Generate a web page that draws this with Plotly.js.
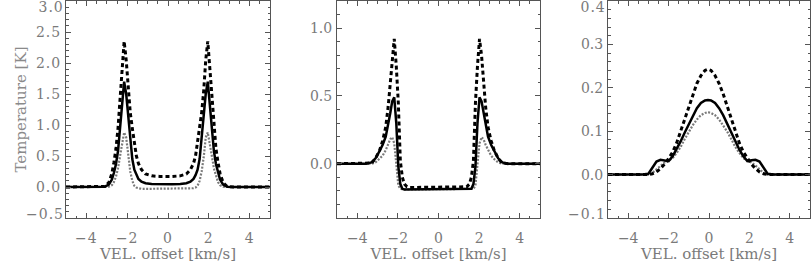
<!DOCTYPE html>
<html>
<head>
<meta charset="utf-8">
<script src="https://cdn.plot.ly/plotly-3.0.1.min.js"></script>
<style>
html,body{margin:0;padding:0;background:#fff;}
#chart{width:812px;height:263px;}
#chart .xtick text, #chart .ytick text, #chart .annotation-text{letter-spacing:1px;}
</style>
</head>
<body>
<div id="chart"></div>
<script>
// ---------- Panel 1 ----------
var P1_X = [-5.0, -3.4, -3.1, -2.9, -2.75, -2.65, -2.55, -2.45, -2.35, -2.25, -2.15, -2.05, -1.95, -1.85, -1.75, -1.65, -1.55, -1.45, -1.3, -1.1, -0.8, -0.4,
            -0.1,
            0.2, 0.6, 0.9, 1.1, 1.25, 1.35, 1.45, 1.55, 1.65, 1.75, 1.85, 1.95, 2.05, 2.15, 2.25, 2.35, 2.45, 2.55, 2.7, 2.9, 3.2, 5.0];
var P1_DASH = [0, 0, 0.01, 0.07, 0.22, 0.4, 0.62, 0.95, 1.37, 1.9, 2.35, 2.05, 1.55, 1.2, 0.95, 0.72, 0.5, 0.38, 0.28, 0.21, 0.18, 0.17,
               0.165,
               0.17, 0.18, 0.21, 0.28, 0.38, 0.5, 0.72, 0.95, 1.2, 1.55, 2.05, 2.35, 1.9, 1.37, 0.95, 0.62, 0.4, 0.22, 0.07, 0.01, 0, 0];
var P1_SOLID = [0, 0, 0.005, 0.04, 0.12, 0.23, 0.37, 0.58, 0.92, 1.35, 1.7, 1.5, 1.12, 0.78, 0.45, 0.28, 0.19, 0.13, 0.085, 0.06, 0.05, 0.045,
                0.045,
                0.045, 0.05, 0.06, 0.085, 0.13, 0.19, 0.28, 0.45, 0.78, 1.12, 1.5, 1.7, 1.35, 0.92, 0.58, 0.37, 0.23, 0.12, 0.04, 0.005, 0, 0];
var P1_DOT = [0, 0, 0, 0.005, 0.03, 0.08, 0.17, 0.3, 0.5, 0.72, 0.88, 0.8, 0.48, 0.25, 0.1, 0.02, -0.01, -0.02, -0.03, -0.03, -0.03, -0.03,
              -0.03,
              -0.03, -0.03, -0.03, -0.03, -0.02, -0.01, 0.02, 0.1, 0.25, 0.48, 0.8, 0.88, 0.72, 0.5, 0.3, 0.17, 0.08, 0.03, 0.005, 0, 0, 0];

// ---------- Panel 2 ----------
var P2_X = [-5.0, -3.6, -3.3, -3.1, -2.9, -2.75, -2.6, -2.48, -2.38, -2.28, -2.18, -2.08, -1.98, -1.88, -1.78, -1.68, -1.55, -1.4, -1.0,
            -0.08,
            0.84, 1.24, 1.39, 1.52, 1.62, 1.72, 1.82, 1.92, 2.02, 2.12, 2.22, 2.32, 2.44, 2.59, 2.74, 2.94, 3.14, 3.44, 5.0];
var P2_DASH = [0, 0, 0.005, 0.04, 0.1, 0.17, 0.27, 0.42, 0.6, 0.8, 0.92, 0.72, 0.45, 0.02, -0.1, -0.15, -0.17, -0.175, -0.175,
               -0.175,
               -0.175, -0.175, -0.17, -0.15, -0.1, 0.02, 0.45, 0.72, 0.92, 0.8, 0.6, 0.42, 0.27, 0.17, 0.1, 0.04, 0.005, 0, 0];
var P2_SOLID = [0, 0, 0.01, 0.04, 0.095, 0.14, 0.2, 0.28, 0.37, 0.46, 0.49, 0.3, -0.02, -0.15, -0.185, -0.19, -0.19, -0.19, -0.19,
                -0.19,
                -0.19, -0.19, -0.19, -0.19, -0.185, -0.15, -0.02, 0.3, 0.49, 0.46, 0.37, 0.28, 0.2, 0.14, 0.095, 0.04, 0.01, 0, 0];
var P2_DOT = [0, 0, 0, 0.01, 0.035, 0.06, 0.1, 0.14, 0.18, 0.196, 0.15, 0.0, -0.16, -0.185, -0.19, -0.19, -0.19, -0.19, -0.19,
              -0.19,
              -0.19, -0.19, -0.19, -0.19, -0.19, -0.185, -0.16, 0.0, 0.15, 0.196, 0.18, 0.14, 0.1, 0.06, 0.035, 0.01, 0, 0, 0];

// ---------- Panel 3 ----------
var P3_X = [-5.0, -3.3, -3.0, -2.8, -2.6, -2.4, -2.2, -2.0, -1.8, -1.6, -1.4, -1.2, -1.0, -0.8, -0.6, -0.4, -0.2,
            -0.05,
            0.1, 0.3, 0.5, 0.7, 0.9, 1.1, 1.3, 1.5, 1.7, 1.9, 2.1, 2.3, 2.5, 2.7, 2.9, 3.2, 5.0];
var P3_DASH = [0, 0, 0, 0.002, 0.006, 0.014, 0.024, 0.037, 0.052, 0.073, 0.1, 0.128, 0.157, 0.186, 0.21, 0.228, 0.24,
               0.243,
               0.24, 0.228, 0.21, 0.186, 0.157, 0.128, 0.1, 0.073, 0.052, 0.037, 0.024, 0.014, 0.006, 0.002, 0, 0, 0];
var P3_SOLID = [0, 0, 0.002, 0.015, 0.03, 0.034, 0.033, 0.031, 0.042, 0.058, 0.077, 0.097, 0.117, 0.137, 0.153, 0.165, 0.171,
                0.172,
                0.171, 0.165, 0.153, 0.137, 0.117, 0.097, 0.077, 0.058, 0.042, 0.031, 0.033, 0.034, 0.03, 0.015, 0.002, 0, 0];
var P3_DOT = [0, 0, 0, 0.004, 0.012, 0.021, 0.028, 0.032, 0.038, 0.05, 0.064, 0.082, 0.099, 0.114, 0.127, 0.137, 0.142,
              0.144,
              0.142, 0.137, 0.127, 0.114, 0.099, 0.082, 0.064, 0.05, 0.038, 0.032, 0.028, 0.021, 0.012, 0.004, 0, 0, 0];

// ---------- Axis ticks ----------
var X_TICKS = [-4, -2, 0, 2, 4];
var X_TICKTEXT = ['\u22124', '\u22122', '0', '2', '4'];
var Y1_TICKS = [-0.5, 0.0, 0.5, 1.0, 1.5, 2.0, 2.5, 3.0];
var Y1_TEXT = ['', '0.0', '0.5', '1.0', '1.5', '2.0', '2.5', ''];
var Y2_TICKS = [0.0, 0.5, 1.0];
var Y2_TEXT = ['0.0', '0.5', '1.0'];
var Y3_TICKS = [-0.1, 0.0, 0.1, 0.2, 0.3, 0.4];
var Y3_TEXT = ['', '0.0', '0.1', '0.2', '0.3', ''];
var END_LABELS = [
  {ax: 'y', v: 3.0, t: '3.0', top: true},
  {ax: 'y', v: -0.5, t: '\u22120.5', top: false},
  {ax: 'y3', v: 0.4, t: '0.4', top: true},
  {ax: 'y3', v: -0.1, t: '\u22120.1', top: false}
];

var TXT = '#7a7a7a';
var FRAME = '#555555';
var FONT = 'DejaVu Serif';

function series(x, y, ax, ay, kind) {
  var line;
  if (kind === 'dash') line = {color: '#000', width: 3, dash: '4px,3px'};
  else if (kind === 'solid') line = {color: '#000', width: 2.5};
  else line = {color: '#7a7a7a', width: 2.2, dash: '2px,1.5px'};
  return {x: x, y: y, xaxis: ax, yaxis: ay, type: 'scatter', mode: 'lines',
          line: line, hoverinfo: 'skip', showlegend: false};
}

var data = [
  series(P1_X, P1_DOT, 'x', 'y', 'dot'),
  series(P1_X, P1_SOLID, 'x', 'y', 'solid'),
  series(P1_X, P1_DASH, 'x', 'y', 'dash'),
  series(P2_X, P2_DOT, 'x2', 'y2', 'dot'),
  series(P2_X, P2_SOLID, 'x2', 'y2', 'solid'),
  series(P2_X, P2_DASH, 'x2', 'y2', 'dash'),
  series(P3_X, P3_DOT, 'x3', 'y3', 'dot'),
  series(P3_X, P3_SOLID, 'x3', 'y3', 'solid'),
  series(P3_X, P3_DASH, 'x3', 'y3', 'dash')
];

function xax(domain, anchor) {
  return {
    domain: domain, anchor: anchor, range: [-5, 5],
    tickmode: 'array', tickvals: X_TICKS, ticktext: X_TICKTEXT,
    ticks: 'inside', ticklen: 5, tickwidth: 1, tickcolor: FRAME,
    minor: {tickmode: 'linear', tick0: 0, dtick: 0.5, ticks: 'inside', ticklen: 2.5, tickcolor: FRAME},
    showline: true, linecolor: FRAME, linewidth: 1, mirror: 'ticks',
    showgrid: false, zeroline: false,
    tickfont: {family: FONT, size: 14, color: TXT},
    ticklabelstandoff: 7,
    title: {text: 'VEL. offset [km/s]', font: {family: FONT, size: 15, color: TXT}, standoff: 3}
  };
}
function yax(anchor, range, tv, tt, minorD, title) {
  var o = {
    anchor: anchor, range: range, domain: [0, 1],
    tickmode: 'array', tickvals: tv, ticktext: tt,
    ticks: 'inside', ticklen: 5, tickwidth: 1, tickcolor: FRAME,
    minor: {tickmode: 'linear', tick0: 0, dtick: minorD, ticks: 'inside', ticklen: 2.5, tickcolor: FRAME},
    showline: true, linecolor: FRAME, linewidth: 1, mirror: 'ticks',
    showgrid: false, zeroline: false,
    tickfont: {family: FONT, size: 14, color: TXT},
    ticklabelstandoff: 1
  };
  if (title) o.title = {text: title, font: {family: FONT, size: 15, color: '#8a8a8a'}, standoff: 8};
  return o;
}

var annotations = END_LABELS.map(function (e) {
  return {
    xref: (e.ax === 'y' ? 'x' : 'x3') + ' domain', x: 0, xanchor: 'right', xshift: -2,
    yref: e.ax, y: e.v, yanchor: 'middle', yshift: e.top ? -6 : 4,
    text: e.t, showarrow: false, font: {family: FONT, size: 14, color: TXT}
  };
});

var layout = {
  width: 812, height: 263,
  margin: {l: 0, r: 0, t: 1, b: 45},
  paper_bgcolor: '#fff', plot_bgcolor: '#fff',
  showlegend: false,
  xaxis: xax([66 / 812, 270 / 812], 'y'),
  xaxis2: xax([337 / 812, 540 / 812], 'y2'),
  xaxis3: xax([608 / 812, 810 / 812], 'y3'),
  yaxis: yax('x', [-0.5, 3.0], Y1_TICKS, Y1_TEXT, 0.1, 'Temperature [K]'),
  yaxis2: yax('x2', [-0.4, 1.2], Y2_TICKS, Y2_TEXT, 0.1, null),
  yaxis3: yax('x3', [-0.1, 0.4], Y3_TICKS, Y3_TEXT, 0.02, null),
  annotations: annotations
};

Plotly.newPlot('chart', data, layout, {displayModeBar: false, staticPlot: true});
</script>
</body>
</html>
